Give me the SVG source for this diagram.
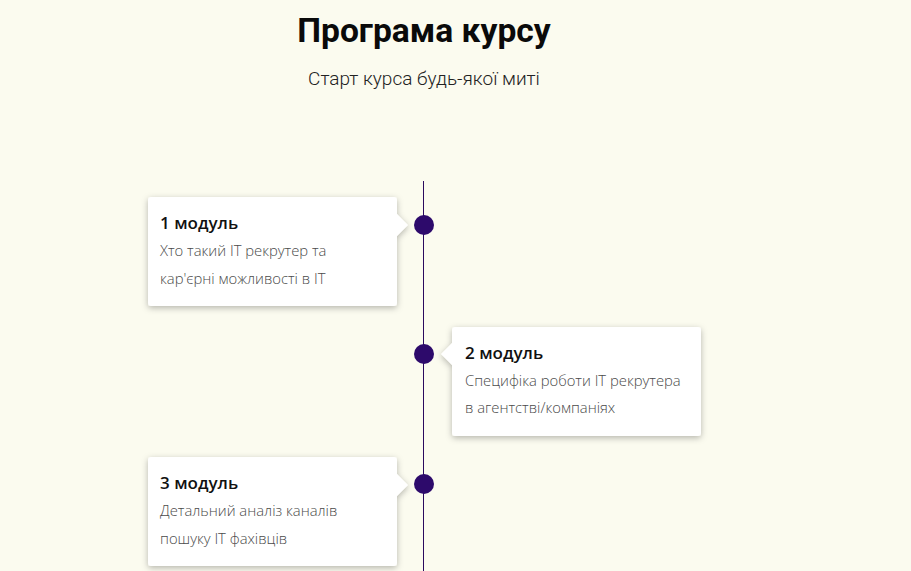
<svg xmlns="http://www.w3.org/2000/svg" width="911" height="571" viewBox="0 0 911 571">
<defs>
<filter id="sh" x="-20%" y="-20%" width="140%" height="150%">
<feDropShadow dx="0" dy="2" stdDeviation="3" flood-color="#000" flood-opacity="0.28"/>
</filter>
</defs>
<style>
.title{font-family:Roboto,"Liberation Sans",sans-serif;font-weight:700;font-size:33.6px;fill:#0a0a0a}
.sub{font-family:Roboto,"Liberation Sans",sans-serif;font-weight:300;font-size:19px;fill:#222}
.card{fill:#fff;filter:url(#sh)}
.h{font-family:"Open Sans","Liberation Sans",sans-serif;font-weight:600;font-size:17px;fill:#111}
.d{font-family:"Open Sans","Liberation Sans",sans-serif;font-weight:300;font-size:14.8px;fill:#4a4a4a}
.dot{fill:#2d0a6b}
.line{stroke:#2a0a5e;stroke-width:1}
</style>
<rect width="911" height="571" fill="#fbfbef"/>
<text class="title" x="424" y="42" text-anchor="middle">Програма курсу</text>
<text class="sub" x="424" y="85" text-anchor="middle">Старт курса будь-якої миті</text>
<g id="connectors">
<line class="line" x1="423.5" y1="181" x2="423.5" y2="571"/>
</g>
<g id="module1">
<path class="card" d="M151,197 H394 Q397,197 397,200 V214 L408,225 L397,236 V303 Q397,306 394,306 H151 Q148,306 148,303 V200 Q148,197 151,197 Z"/>
<text class="h" x="160" y="229">1 модуль</text>
<text class="d" x="160" y="256">Хто такий IT рекрутер та</text>
<text class="d" x="160" y="284">кар'єрні можливості в IT</text>
<circle class="dot" cx="424" cy="225" r="10"/>
</g>
<g id="module2">
<path class="card" d="M455,327 H698 Q701,327 701,330 V433 Q701,436 698,436 H455 Q452,436 452,433 V365 L441,354 L452,343 V330 Q452,327 455,327 Z"/>
<text class="h" x="465" y="359">2 модуль</text>
<text class="d" x="465" y="386">Специфіка роботи IT рекрутера</text>
<text class="d" x="465" y="413">в агентстві/компаніях</text>
<circle class="dot" cx="424" cy="354" r="10"/>
</g>
<g id="module3">
<path class="card" d="M151,457 H394 Q397,457 397,460 V474 L408,485 L397,496 V563 Q397,566 394,566 H151 Q148,566 148,563 V460 Q148,457 151,457 Z"/>
<text class="h" x="160" y="489">3 модуль</text>
<text class="d" x="160" y="516">Детальний аналіз каналів</text>
<text class="d" x="160" y="544">пошуку IT фахівців</text>
<circle class="dot" cx="424" cy="484" r="10"/>
</g>
</svg>
